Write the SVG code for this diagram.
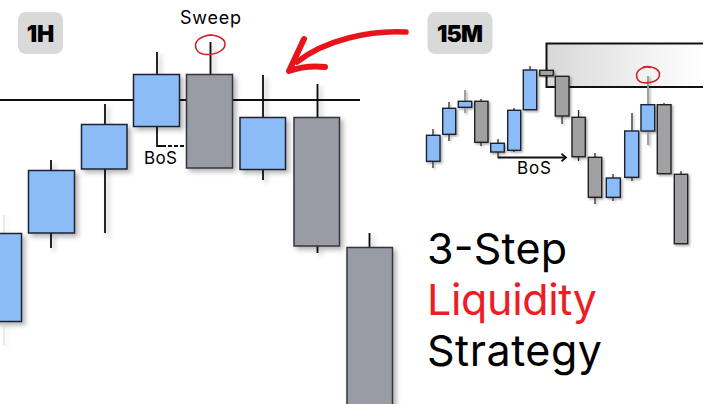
<svg xmlns="http://www.w3.org/2000/svg" width="720" height="404" viewBox="0 0 720 404">
<style>
text{font-family:"Inter","Liberation Sans",sans-serif;fill:#000}
.w{stroke:#111;stroke-width:1.8;fill:none}
.w2{stroke:#222;stroke-width:1.2;fill:none}
.wg{stroke:#999;stroke-width:1.8;fill:none}
.b{fill:#8cbcf8;stroke:#1c2433;stroke-width:1.5}
.g{fill:#9a9ca5;stroke:#33363c;stroke-width:1.5}
.g2{fill:#a1a1a3;stroke:#222;stroke-width:1.4}
.b2{fill:#8cbcf8;stroke:#1c2433;stroke-width:1.4}
.lab{font-size:17px}
.big{font-size:43px}
.badge{fill:#d9d9d9}
.bt{font-size:23px;font-weight:900;text-anchor:middle}
.c{fill:none;stroke:#cf2027;stroke-width:1.6}
.z{stroke:#111;stroke-width:2;fill:none}
</style>
<defs>
<filter id="s" x="-30%" y="-30%" width="170%" height="170%"><feDropShadow dx="3" dy="3" stdDeviation="2.5" flood-color="#000" flood-opacity="0.3"/></filter>
<filter id="s2" x="-40%" y="-30%" width="190%" height="170%"><feDropShadow dx="1.5" dy="1.5" stdDeviation="1.2" flood-color="#000" flood-opacity="0.35"/></filter>
<linearGradient id="zone" x1="0" x2="1" y1="0" y2="0"><stop offset="0" stop-color="#d8d8d8"/><stop offset="0.55" stop-color="#eee"/><stop offset="1" stop-color="#fff"/></linearGradient>
<marker id="ah" markerWidth="8" markerHeight="9" refX="6" refY="4.500" orient="auto" markerUnits="userSpaceOnUse"><path d="M1.500,0.800L6,4.500L1.500,8.200" fill="none" stroke="#111" stroke-width="1.800"/></marker>
</defs>
<rect width="720" height="404" fill="#fff"/>

<g id="badge-1h"><rect class="badge" x="18" y="12" width="45" height="42" rx="8"/><text class="bt" x="40.500" y="41.500">1H</text></g>
<g id="badge-15m"><rect class="badge" x="427.500" y="12" width="65" height="42" rx="8"/><text class="bt" x="460" y="41.500" textLength="46">15M</text></g>

<g id="connectors">
<path d="M0,100H360" stroke="#111" stroke-width="2"/>
<path d="M157,126V146H162" class="w"/>
<path d="M162,146H187" class="w" stroke-dasharray="4 2"/>
<path d="M498,157.500H566" class="w" marker-end="url(#ah)"/>
<path d="M406,32C370,30 325,40 297,62" fill="none" stroke="#e8141c" stroke-width="5.500" stroke-linecap="round"/>
<path d="M304,39L289,71C300,67 315,66 325,67" fill="none" stroke="#e8141c" stroke-width="6" stroke-linecap="round" stroke-linejoin="round"/>
</g>

<g id="chart-1h">
<g id="c1" filter="url(#s)"><path class="wg" d="M4,215V233M4,321V345" opacity="0.2"/><rect class="b" x="-10" y="233.500" width="31.500" height="88"/></g>
<g id="c2" filter="url(#s)"><path class="w" d="M51,160V170M51,233V248"/><rect class="b" x="28.500" y="170.500" width="46" height="62.500"/></g>
<g id="c3" filter="url(#s)"><path class="w" d="M105,104V124M105,169V233"/><rect class="b" x="81.500" y="124.500" width="45.500" height="44.500"/></g>
<g id="c4" filter="url(#s)"><path class="w" d="M157,52V74"/><rect class="b" x="133.500" y="74.500" width="46" height="52"/></g>
<g id="c5" filter="url(#s)"><path class="w" d="M210.500,42V74"/><rect class="g" x="186.500" y="74.500" width="46" height="93.500"/></g>
<g id="c6" filter="url(#s)"><path class="w" d="M263,75V117M263,169V180"/><rect class="b" x="240" y="117.500" width="45.500" height="52"/></g>
<g id="c7" filter="url(#s)"><path class="w" d="M317.500,84V117M317.500,246V253"/><rect class="g" x="294" y="117.500" width="45.500" height="128.500"/></g>
<g id="c8" filter="url(#s)"><path class="w" d="M369.500,233V247"/><rect class="g" x="347" y="247.500" width="45.500" height="170"/></g>
</g>

<g id="label-sweep"><text x="180" y="24" font-size="18" textLength="61">Sweep</text><path class="c" d="M205,36C214,33 226,38 225,45C224,52 212,56 203,54C195,52 193,44 199,39C202,37 207,35 212,35"/></g>
<g id="label-bos-1h"><text class="lab" x="144" y="164" textLength="33">BoS</text></g>

<g id="zone-15m"><rect x="546" y="43.500" width="157" height="43.500" fill="url(#zone)"/><path class="z" d="M703,43.500H546.500V87H703"/></g>

<g id="chart-15m">
<g id="m1" filter="url(#s2)"><path class="w2" d="M433,129V135M433,161V168"/><rect class="b2" x="426.500" y="135.300" width="13.500" height="26"/></g>
<g id="m2" filter="url(#s2)"><path class="w2" d="M449,102V108M449,134V141"/><rect class="b2" x="442.700" y="108.300" width="13" height="26"/></g>
<g id="m3" filter="url(#s2)"><path class="wg" d="M465,90V101M465,107V113"/><rect class="b2" x="458.300" y="101.300" width="13.400" height="6"/></g>
<g id="m4" filter="url(#s2)"><path class="w2" d="M481,99V101M481,142V146"/><rect class="g2" x="474.700" y="101.300" width="13.300" height="41"/></g>
<g id="m5" filter="url(#s2)"><path class="w2" d="M498,139V143M498,152V158"/><rect class="b2" x="490.700" y="143.300" width="13.600" height="8.700"/></g>
<g id="m6" filter="url(#s2)"><path class="w2" d="M514,108V110M514,150V152"/><rect class="b2" x="507.700" y="110.300" width="13" height="40"/></g>
<g id="m7" filter="url(#s2)"><path class="w2" d="M530,66V70"/><rect class="b2" x="523.300" y="70" width="13.400" height="39.700"/></g>
<g id="m8" filter="url(#s2)"><rect class="g2" x="539.700" y="70.300" width="13.600" height="5.400"/></g>
<g id="m9" filter="url(#s2)"><path class="w2" d="M562,116V124"/><rect class="g2" x="555.300" y="76.300" width="13.700" height="39.700"/></g>
<g id="m10" filter="url(#s2)"><path class="w2" d="M578.500,110V117M578.500,157V161"/><rect class="g2" x="572" y="117.300" width="13.300" height="39.400"/></g>
<g id="m11" filter="url(#s2)"><path class="w2" d="M595,153V157M595,197V204"/><rect class="g2" x="588.300" y="157.300" width="13.400" height="40"/></g>
<g id="m12" filter="url(#s2)"><path class="w2" d="M613,174V178M613,197V201"/><rect class="b2" x="606.300" y="178" width="14" height="19.300"/></g>
<g id="m13" filter="url(#s2)"><path class="w2" d="M632,113V131M632,177V181"/><rect class="b2" x="624.700" y="131" width="14" height="46.300"/></g>
<g id="m14" filter="url(#s2)"><path class="wg" d="M648,76V105M648,131V145"/><rect class="b2" x="641" y="104.700" width="13.700" height="26.300"/></g>
<g id="m15" filter="url(#s2)"><path class="w2" d="M664,103V105"/><rect class="g2" x="657.300" y="104.700" width="13.700" height="69"/></g>
<g id="m16" filter="url(#s2)"><path class="w2" d="M681,171V174"/><rect class="g2" x="674.300" y="174.300" width="13.400" height="69.400"/></g>
</g>

<g id="label-sweep-15m"><path class="c" d="M643,67C651,65 660,69 659.500,75C659,81 650,84 642,82.500C636,81 635,74 639,70C642,67.500 647,66.500 651,67.500"/></g>
<g id="label-bos-15m"><text class="lab" x="517" y="174" textLength="34">BoS</text></g>

<g id="title">
<text class="big" x="427" y="264" textLength="140">3-Step</text>
<text class="big" x="427" y="315" textLength="170" style="fill:#ee1c25">Liquidity</text>
<text class="big" x="427" y="366" textLength="175">Strategy</text>
</g>
</svg>
